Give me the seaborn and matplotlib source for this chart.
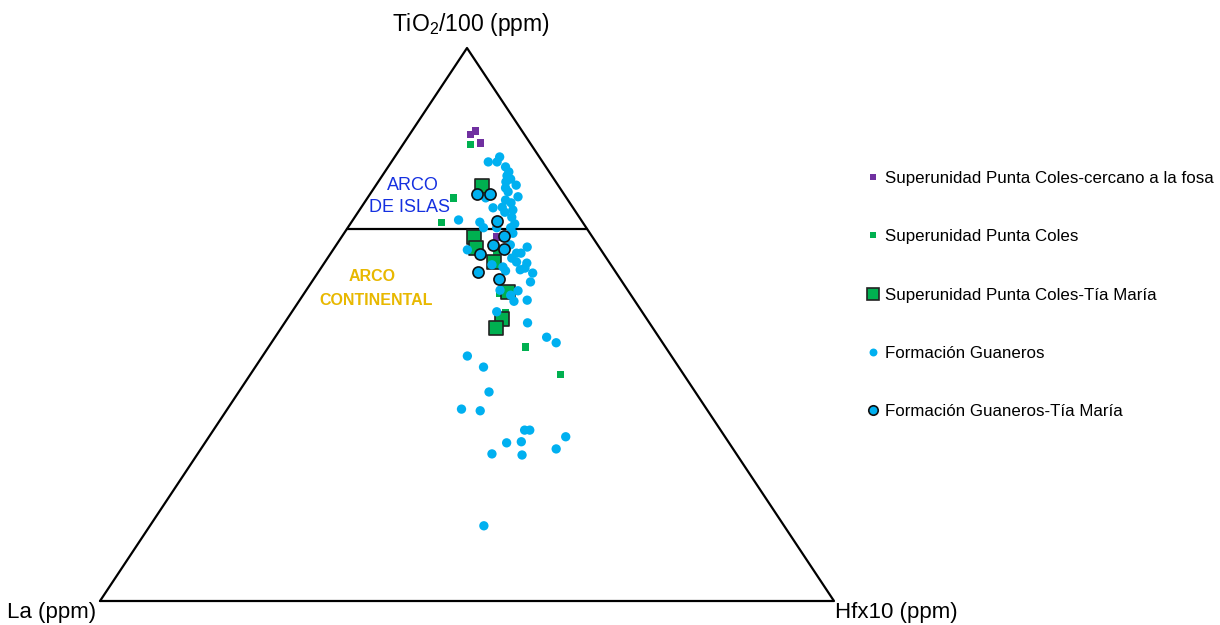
import numpy as np
import pandas as pd
import seaborn as sns
import matplotlib.pyplot as plt
from matplotlib.lines import Line2D

sns.set_style('white')
plt.rcParams['font.family'] = ['Liberation Sans', 'DejaVu Sans']
plt.rcParams['text.color'] = 'black'
plt.rcParams['mathtext.fontset'] = 'custom'
plt.rcParams['mathtext.rm'] = 'Liberation Sans'

# Ternary compositions in % : TiO2/100 and Hfx10 (La = 100 - TiO2 - Hf)
fosa_ti = [84.4, 85.0, 82.8, 65.8]
fosa_hf = [8.3, 8.7, 10.4, 21.2]

coles_ti = [82.6, 72.9, 68.4, 45.9, 41.0, 62.9, 55.7, 52.1]
coles_hf = [9.2, 11.7, 12.3, 35.0, 42.2, 22.6, 26.6, 29.2]

coles_tm_ti = [75.0, 65.8, 63.8, 61.3, 55.9, 51.0, 49.4]
coles_tm_hf = [14.5, 18.1, 19.3, 23.0, 27.7, 29.3, 29.3]

guan_ti = [80.3, 79.4, 79.4, 78.5, 77.6, 76.9, 76.3, 75.8, 75.2, 74.7,
           74.0, 73.1, 72.9, 72.5, 72.0, 71.2, 71.1, 70.7, 70.3, 68.9,
           68.5, 69.4, 68.2, 67.5, 67.5, 67.5, 66.5, 63.5, 64.0, 64.4,
           62.9, 62.9, 62.0, 61.3, 61.1, 60.8, 60.4, 59.7, 59.9, 60.2,
           59.3, 57.7, 56.2, 56.1, 55.3, 54.2, 54.4, 52.3, 50.3, 47.7,
           46.7, 44.3, 42.3, 37.8, 34.7, 34.4, 30.9, 30.9, 29.7, 28.6,
           28.8, 27.5, 26.6, 26.4, 13.6]
guan_hf = [14.3, 14.4, 13.2, 16.0, 16.9, 17.0, 17.8, 17.4, 19.1, 17.9,
           18.6, 20.4, 16.1, 19.0, 20.0, 19.2, 18.0, 20.9, 20.0, 14.4,
           17.5, 21.4, 22.4, 18.5, 20.3, 22.2, 23.0, 18.3, 26.2, 23.7,
           25.3, 25.9, 25.1, 26.1, 27.6, 23.0, 24.7, 25.4, 27.3, 27.8,
           29.3, 29.8, 26.4, 28.9, 28.3, 29.3, 31.0, 27.9, 33.1, 37.0,
           38.8, 27.9, 31.1, 34.1, 31.9, 34.6, 42.4, 43.1, 48.6, 41.1,
           43.0, 48.4, 40.1, 44.3, 45.5]

guan_tm_ti = [73.6, 73.6, 68.7, 66.0, 64.4, 63.7, 62.7, 59.5, 58.2]
guan_tm_hf = [14.6, 16.3, 19.8, 22.0, 21.3, 23.2, 20.4, 21.7, 25.3]

# TiO2 level separating island arc / continental arc fields
arc_limit_ti = 67.3

groups = ['Superunidad Punta Coles-cercano a la fosa',
          'Superunidad Punta Coles',
          'Superunidad Punta Coles-Tía María',
          'Formación Guaneros',
          'Formación Guaneros-Tía María']

H = np.sqrt(3) / 2


def to_xy(ti, hf):
    ti = np.asarray(ti) / 100
    hf = np.asarray(hf) / 100
    return hf + ti / 2, ti * H


frames = []
for name, ti, hf in zip(groups,
                        [fosa_ti, coles_ti, coles_tm_ti, guan_ti, guan_tm_ti],
                        [fosa_hf, coles_hf, coles_tm_hf, guan_hf, guan_tm_hf]):
    x, y = to_xy(ti, hf)
    frames.append(pd.DataFrame({'TiO2': ti, 'Hf': hf,
                                'La': 100 - np.array(ti) - np.array(hf),
                                'x': x, 'y': y, 'grupo': name}))
df = pd.concat(frames, ignore_index=True)

styles = {
    groups[0]: dict(marker='s', s=28, color='#7030A0', edgecolor='none'),
    groups[1]: dict(marker='s', s=28, color='#00B050', edgecolor='none'),
    groups[2]: dict(marker='s', s=105, color='#00B050', edgecolor='#222222', linewidth=1.2),
    groups[3]: dict(marker='o', s=45, color='#00B0F0', edgecolor='none'),
    groups[4]: dict(marker='o', s=64, color='#00B0F0', edgecolor='#111111', linewidth=1.2),
}

fig = plt.figure(figsize=(12.2, 6.25), dpi=100)
ax = fig.add_axes([100 / 1220, 24 / 625, 734 / 1220, 553 / 625])
ax.set_xlim(0, 1)
ax.set_ylim(0, H)
ax.axis('off')

# triangle and field boundary
ax.plot([0, 0.5, 1, 0], [0, H, 0, 0], color='black', lw=1.6, clip_on=False, zorder=1)
t0 = arc_limit_ti / 100
ax.plot([t0 / 2, 1 - t0 / 2], [t0 * H, t0 * H], color='black', lw=1.6, zorder=1)

for name in groups:
    sub = df[df['grupo'] == name]
    sns.scatterplot(data=sub, x='x', y='y', ax=ax, legend=False, zorder=3, **styles[name])

# vertex labels
ax.annotate(r'TiO$_2$/100 (ppm)', xy=(0.5, H), xytext=(3, 17), textcoords='offset points',
            ha='center', va='center', fontsize=16.5, annotation_clip=False)
ax.annotate('La (ppm)', xy=(0, 0), xytext=(-35, -8), textcoords='offset points',
            ha='center', va='center', fontsize=16, annotation_clip=False)
ax.annotate('Hfx10 (ppm)', xy=(1, 0), xytext=(45, -8), textcoords='offset points',
            ha='center', va='center', fontsize=16, annotation_clip=False)

# field labels
ax.text(0.426, 0.751 * H, 'ARCO', color='#1530E0', fontsize=13, ha='center', va='center')
ax.text(0.422, 0.711 * H, 'DE ISLAS', color='#1530E0', fontsize=13, ha='center', va='center')
ax.text(0.371, 0.587 * H, 'ARCO', color='#E8B800', fontsize=11.5, fontweight='bold',
        ha='center', va='center')
ax.text(0.376, 0.544 * H, 'CONTINENTAL', color='#E8B800', fontsize=11.5, fontweight='bold',
        ha='center', va='center')

handles = []
for name in groups:
    st = styles[name]
    handles.append(Line2D([], [], ls='none', marker=st['marker'],
                          markersize=np.sqrt(st['s']) * 0.85,
                          markerfacecolor=st['color'],
                          markeredgecolor=st['edgecolor'],
                          markeredgewidth=st.get('linewidth', 0)))
fig.legend(handles, groups, loc='upper left', bbox_to_anchor=(858 / 1220, 1 - 164 / 625),
           frameon=False, fontsize=12.2, labelspacing=2.56, handletextpad=0.2,
           handlelength=1.0, borderaxespad=0)

fig.savefig('out.png', dpi=100)
